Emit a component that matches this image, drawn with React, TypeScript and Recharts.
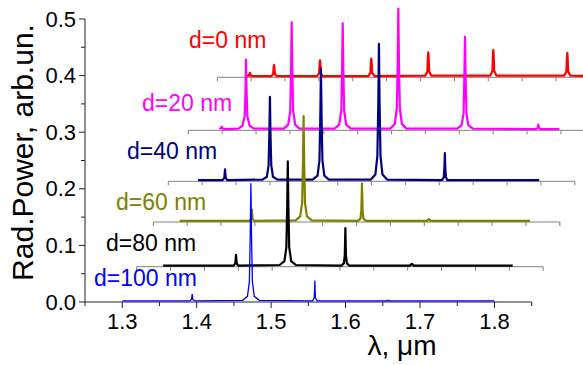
import React from 'react';
import { ComposedChart, Line, XAxis, YAxis, ReferenceLine } from 'recharts';

// ---------- data ----------
const lambdaDomain: [number, number] = [1.25, 1.85];
const layerAxisTicks = [1.25, 1.3, 1.35, 1.4, 1.45, 1.5, 1.55, 1.6, 1.65, 1.7, 1.75, 1.8, 1.85];
const xMajorTicks = [1.3, 1.4, 1.5, 1.6, 1.7, 1.8];
const yTicks = [0, 0.05, 0.1, 0.15, 0.2, 0.25, 0.3, 0.35, 0.4, 0.45, 0.5];
const yMajorTicks = [0, 0.1, 0.2, 0.3, 0.4, 0.5];
const yAxisRange: [number, number] = [0, 0.5];
const seriesNames = ['d=0 nm', 'd=20 nm', 'd=40 nm', 'd=60 nm', 'd=80 nm', 'd=100 nm'];

// [wavelength (um), radiated power (arb.un.) above its own baseline]
const spectrumD0: [number, number][] = [
  [1.2935, 0.002], [1.2965, 0.003], [1.298, 0.008], [1.2995, 0.003], [1.302, 0.002],
  [1.330, 0.002], [1.3325, 0.006], [1.3332, 0.018], [1.3337, 0.022], [1.3342, 0.018], [1.335, 0.006], [1.338, 0.002],
  [1.397, 0.002], [1.4003, 0.007], [1.4011, 0.025], [1.4016, 0.030], [1.4021, 0.025], [1.4029, 0.007], [1.406, 0.002],
  [1.473, 0.002], [1.476, 0.008], [1.4768, 0.028], [1.4773, 0.033], [1.4778, 0.028], [1.4786, 0.008], [1.482, 0.002],
  [1.557, 0.003], [1.5601, 0.010], [1.5609, 0.037], [1.5614, 0.044], [1.5619, 0.037], [1.5627, 0.010], [1.566, 0.003],
  [1.653, 0.003], [1.6561, 0.011], [1.6569, 0.040], [1.6574, 0.048], [1.6579, 0.040], [1.6587, 0.011], [1.662, 0.003],
  [1.762, 0.003], [1.7653, 0.010], [1.7661, 0.036], [1.7666, 0.043], [1.7671, 0.036], [1.7679, 0.010], [1.771, 0.003],
  [1.800, 0.002],
];
const spectrumD20: [number, number][] = [
  [1.296, 0.002], [1.298, 0.004], [1.2993, 0.006], [1.301, 0.003], [1.305, 0.002],
  [1.324, 0.003], [1.330, 0.008], [1.3332, 0.025], [1.3344, 0.070], [1.3352, 0.125], [1.3360, 0.070], [1.3372, 0.025], [1.3405, 0.008], [1.347, 0.003],
  [1.391, 0.003], [1.3975, 0.010], [1.4005, 0.035], [1.4017, 0.110], [1.4026, 0.191], [1.4035, 0.110], [1.4047, 0.035], [1.4077, 0.010], [1.414, 0.003],
  [1.466, 0.003], [1.4728, 0.010], [1.4758, 0.035], [1.4770, 0.110], [1.4779, 0.189], [1.4788, 0.110], [1.4800, 0.035], [1.4830, 0.010], [1.490, 0.003],
  [1.548, 0.003], [1.5548, 0.011], [1.5578, 0.040], [1.5591, 0.120], [1.5600, 0.215], [1.5609, 0.120], [1.5622, 0.040], [1.5652, 0.011], [1.572, 0.003],
  [1.647, 0.003], [1.6534, 0.009], [1.6563, 0.030], [1.6575, 0.095], [1.6584, 0.165], [1.6593, 0.095], [1.6605, 0.030], [1.6634, 0.009], [1.670, 0.003],
  [1.763, 0.002], [1.7656, 0.004], [1.7666, 0.010], [1.7676, 0.004], [1.770, 0.002],
  [1.7976, 0.002],
];
const spectrumD40: [number, number][] = [
  [1.294, 0.002],
  [1.330, 0.002], [1.3327, 0.006], [1.3337, 0.021], [1.3347, 0.006], [1.337, 0.002],
  [1.389, 0.003], [1.3955, 0.008], [1.3980, 0.028], [1.3992, 0.085], [1.4000, 0.149], [1.4008, 0.085], [1.4020, 0.028], [1.4045, 0.008], [1.411, 0.003],
  [1.463, 0.003], [1.4703, 0.010], [1.4731, 0.037], [1.4744, 0.115], [1.4753, 0.199], [1.4762, 0.115], [1.4775, 0.037], [1.4803, 0.010], [1.487, 0.003],
  [1.549, 0.003], [1.5557, 0.012], [1.5586, 0.045], [1.5600, 0.140], [1.5609, 0.243], [1.5618, 0.140], [1.5632, 0.045], [1.5661, 0.012], [1.573, 0.003],
  [1.654, 0.002], [1.6566, 0.007], [1.6576, 0.025], [1.6582, 0.050], [1.6588, 0.025], [1.6598, 0.007], [1.662, 0.002],
  [1.7974, 0.002],
];
const spectrumD60: [number, number][] = [
  [1.289, 0.002],
  [1.392, 0.002], [1.3945, 0.006], [1.3955, 0.022], [1.3965, 0.006], [1.399, 0.002],
  [1.460, 0.003], [1.4668, 0.010], [1.4697, 0.034], [1.4709, 0.105], [1.4718, 0.187], [1.4727, 0.105], [1.4739, 0.034], [1.4768, 0.010], [1.484, 0.003],
  [1.552, 0.002], [1.5558, 0.006], [1.5571, 0.020], [1.5576, 0.045], [1.5580, 0.068], [1.5584, 0.045], [1.5589, 0.020], [1.5602, 0.006], [1.564, 0.002],
  [1.654, 0.002], [1.6567, 0.005], [1.6595, 0.002],
  [1.806, 0.002],
];
const spectrumD80: [number, number][] = [
  [1.289, 0.002],
  [1.393, 0.002], [1.3956, 0.006], [1.3966, 0.021], [1.3976, 0.006], [1.400, 0.002],
  [1.461, 0.003], [1.4680, 0.010], [1.4709, 0.034], [1.4721, 0.105], [1.4730, 0.186], [1.4739, 0.105], [1.4751, 0.034], [1.4780, 0.010], [1.485, 0.003],
  [1.552, 0.002], [1.5558, 0.006], [1.5571, 0.020], [1.5576, 0.045], [1.5580, 0.068], [1.5584, 0.045], [1.5589, 0.020], [1.5602, 0.006], [1.564, 0.002],
  [1.653, 0.002], [1.656, 0.005], [1.659, 0.002],
  [1.805, 0.002],
];
const spectrumD100: [number, number][] = [
  [1.300, 0.002],
  [1.391, 0.002], [1.3932, 0.005], [1.394, 0.014], [1.3948, 0.005], [1.397, 0.002],
  [1.462, 0.003], [1.4682, 0.010], [1.4708, 0.036], [1.4719, 0.115], [1.4728, 0.210], [1.4737, 0.115], [1.4748, 0.036], [1.4774, 0.010], [1.484, 0.003],
  [1.5555, 0.002], [1.5578, 0.007], [1.5583, 0.020], [1.5587, 0.038], [1.5591, 0.020], [1.5596, 0.007], [1.562, 0.002],
  [1.654, 0.002], [1.657, 0.003], [1.660, 0.002],
  [1.800, 0.002],
];

// ---------- layout / style ----------
const W = 640;
const H = 365;
const PLOT_LEFT = 85;
const Y_TOP_PX = 19; // pixel of 0.5
const PLOT_BOTTOM = 302;
const PX_PER_UNIT = (PLOT_BOTTOM - Y_TOP_PX) / 0.5;
const Y_DOMAIN_MAX = PLOT_BOTTOM / PX_PER_UNIT; // plot area runs to the top edge
const MAIN_AXIS_RIGHT = 531.7;
const LAYER_LEN = 406.5;
const FONT = '"Liberation Sans", Arial, Helvetica, sans-serif';
const AXIS_COLOR = '#222';
const LAYER_AXIS_COLOR = '#808080';

const toPts = (arr: [number, number][]) => arr.map(([x, y]) => ({ x, y }));

type Layer = {
  id: string; name: string; color: string; data: [number, number][];
  left: number; base: number; labelX: number; labelY: number;
};

const layers: Layer[] = [
  { id: 'd0', name: seriesNames[0], color: '#ff0000', data: spectrumD0, left: 217.3, base: 77.3, labelX: 189, labelY: 48 },
  { id: 'd20', name: seriesNames[1], color: '#ff00ff', data: spectrumD20, left: 188.3, base: 130.3, labelX: 142, labelY: 111 },
  { id: 'd40', name: seriesNames[2], color: '#000080', data: spectrumD40, left: 168.3, base: 181.3, labelX: 127, labelY: 159 },
  { id: 'd60', name: seriesNames[3], color: '#808000', data: spectrumD60, left: 153.3, base: 222, labelX: 116, labelY: 210 },
  { id: 'd80', name: seriesNames[4], color: '#000000', data: spectrumD80, left: 136.7, base: 266.7, labelX: 106, labelY: 250.5 },
];
const blueLabel = { x: 94, y: 286 };

const isIn = (v: number, arr: number[]) => arr.some((a) => Math.abs(a - v) < 1e-6);

const XTick = (props: any) => {
  const { x, y, payload } = props;
  const major = isIn(payload.value, xMajorTicks);
  return (
    <g>
      <line x1={x} y1={y} x2={x} y2={y + (major ? 6 : 4)} stroke={AXIS_COLOR} strokeWidth={1} />
      {major && (
        <text x={x} y={y + 27} textAnchor="middle" fontSize={22} fontFamily={FONT} fill="#000">
          {payload.value.toFixed(1)}
        </text>
      )}
    </g>
  );
};

const YTick = (props: any) => {
  const { x, y, payload } = props;
  const major = isIn(payload.value, yMajorTicks);
  return (
    <g>
      <line x1={x - (major ? 6 : 4)} y1={y} x2={x} y2={y} stroke={AXIS_COLOR} strokeWidth={1} />
      {major && (
        <text x={x - 9} y={y + 7.5} textAnchor="end" fontSize={22} fontFamily={FONT} fill="#000">
          {payload.value.toFixed(1)}
        </text>
      )}
    </g>
  );
};

export default function App() {
  const tickLen = 4 / PX_PER_UNIT;
  return (
    <div style={{ position: 'absolute', left: 0, top: 0, width: 583, height: 365, overflow: 'hidden', background: '#fff' }}>
      <ComposedChart width={W} height={H} margin={{ top: 0, right: 0, bottom: 0, left: 0 }}>
        {layers.map((l) => (
          <XAxis
            key={'x' + l.id} xAxisId={l.id} dataKey="x" type="number" domain={lambdaDomain} hide height={0}
            padding={{ left: l.left - PLOT_LEFT, right: W - (l.left + LAYER_LEN) }}
          />
        ))}
        {layers.map((l) => {
          const b = (PLOT_BOTTOM - l.base) / PX_PER_UNIT;
          return <YAxis key={'y' + l.id} yAxisId={l.id} type="number" domain={[-b, Y_DOMAIN_MAX - b]} hide width={0} />;
        })}
        <XAxis
          xAxisId="main" dataKey="x" type="number" domain={lambdaDomain} ticks={layerAxisTicks} interval={0}
          padding={{ left: 0, right: W - MAIN_AXIS_RIGHT }} height={H - PLOT_BOTTOM}
          axisLine={false} tickLine={false} tickSize={0} tickMargin={0} tick={<XTick />}
        />
        <YAxis
          yAxisId="main" type="number" domain={[0, Y_DOMAIN_MAX]} ticks={yTicks} interval={0} width={PLOT_LEFT}
          axisLine={false} tickLine={false} tickSize={0} tickMargin={0} tick={<YTick />}
        />
        <ReferenceLine
          xAxisId="main" yAxisId="main" ifOverflow="visible"
          segment={[{ x: lambdaDomain[0], y: yAxisRange[0] }, { x: lambdaDomain[1], y: yAxisRange[0] }]}
          stroke={AXIS_COLOR} strokeWidth={1}
        />
        <ReferenceLine
          xAxisId="main" yAxisId="main" ifOverflow="visible"
          segment={[{ x: lambdaDomain[0], y: yAxisRange[0] }, { x: lambdaDomain[0], y: yAxisRange[1] }]}
          stroke={AXIS_COLOR} strokeWidth={1}
        />
        {layers.map((l) => (
          <ReferenceLine
            key={'ax' + l.id} xAxisId={l.id} yAxisId={l.id} ifOverflow="visible"
            segment={[{ x: lambdaDomain[0], y: 0 }, { x: lambdaDomain[1], y: 0 }]}
            stroke={LAYER_AXIS_COLOR} strokeWidth={1}
          />
        ))}
        {layers.map((l) =>
          layerAxisTicks.map((t) => (
            <ReferenceLine
              key={'t' + l.id + t} xAxisId={l.id} yAxisId={l.id} ifOverflow="visible"
              segment={[{ x: t, y: 0 }, { x: t, y: -tickLen }]}
              stroke={LAYER_AXIS_COLOR} strokeWidth={1}
            />
          ))
        )}
        {layers.map((l) => (
          <Line
            key={'l' + l.id} xAxisId={l.id} yAxisId={l.id} data={toPts(l.data)} dataKey="y" type="linear"
            stroke={l.color} strokeWidth={2.2} dot={false} activeDot={false} isAnimationActive={false}
            strokeLinejoin="round"
          />
        ))}
        <Line
          xAxisId="main" yAxisId="main" data={toPts(spectrumD100)} dataKey="y" type="linear"
          stroke="#0000ff" strokeWidth={1.3} dot={false} activeDot={false} isAnimationActive={false}
        />
      </ComposedChart>
      <svg width={583} height={365} style={{ position: 'absolute', left: 0, top: 0, pointerEvents: 'none' }}>
        {layers.map((l) => (
          <text key={'lab' + l.id} x={l.labelX} y={l.labelY} fontSize={23} fontFamily={FONT} fill={l.color}>
            {l.name}
          </text>
        ))}
        <text x={blueLabel.x} y={blueLabel.y} fontSize={23} fontFamily={FONT} fill="#0000ff">
          {seriesNames[5]}
        </text>
        <text x={33} y={152.5} transform="rotate(-90 33 152.5)" textAnchor="middle" fontSize={30} fontFamily={FONT} fill="#000">
          Rad.Power, arb.un.
        </text>
        <text x={402} y={355} textAnchor="middle" fontSize={28} fontFamily={FONT} fill="#000">
          λ, μm
        </text>
      </svg>
    </div>
  );
}
